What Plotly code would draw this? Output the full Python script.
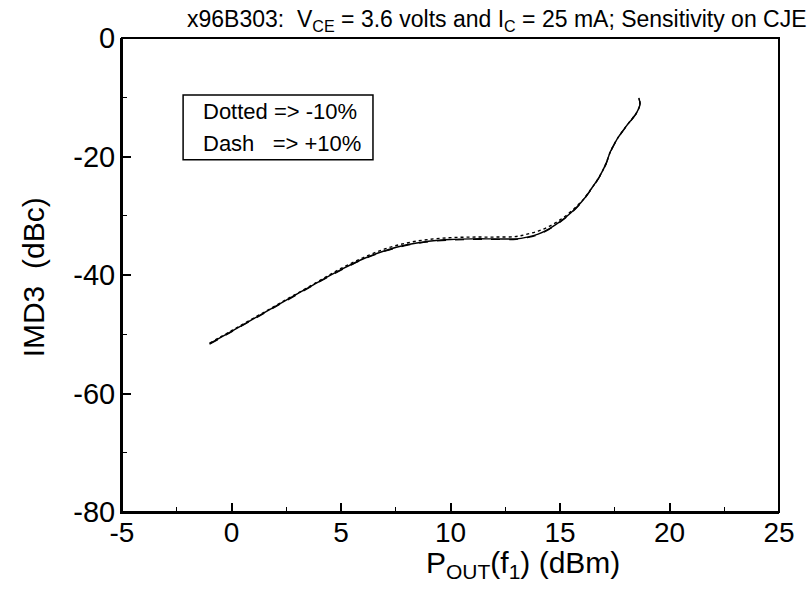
import plotly.graph_objects as go

# Output power of f1 (dBm)
p_out = [-1, 0, 1, 2, 3, 4, 5, 6, 7, 8, 9, 10, 11, 12, 13, 13.5, 14, 14.5,
         15, 15.5, 16, 16.4, 16.8, 17.1, 17.3, 17.6, 18.0, 18.3, 18.5, 18.65, 18.6]

# IMD3 (dBc), nominal CJE
imd3_nominal = [-51.6, -49.5, -47.4, -45.3, -43.2, -41.1, -39.1, -37.3, -35.9, -34.9,
                -34.3, -34.0, -33.9, -33.9, -33.9, -33.6, -33.1, -32.2, -31.0, -29.5,
                -27.6, -25.6, -23.4, -21.2, -19.2, -17.1, -15.0, -13.6, -12.6, -11.2, -10.1]

# IMD3 (dBc), CJE -10% (dotted)
imd3_minus10 = [-51.5, -49.4, -47.3, -45.2, -43.1, -41.0, -38.9, -37.1, -35.6, -34.6,
                -34.0, -33.7, -33.6, -33.6, -33.5, -33.1, -32.6, -31.8, -30.7, -29.3,
                -27.5, -25.6, -23.4, -21.2, -19.2, -17.1, -15.0, -13.6, -12.6, -11.2, -10.1]

# IMD3 (dBc), CJE +10% (dashed)
imd3_plus10 = [-51.7, -49.6, -47.5, -45.4, -43.3, -41.2, -39.2, -37.4, -36.0, -35.0,
               -34.4, -34.1, -34.0, -34.0, -34.0, -33.7, -33.2, -32.3, -31.1, -29.6,
               -27.7, -25.7, -23.5, -21.3, -19.3, -17.2, -15.1, -13.7, -12.7, -11.3, -10.2]

x_ticks = [-5, 0, 5, 10, 15, 20, 25]
x_tick_text = ["-5", "0", "5", "10", "15", "20", "25"]
y_ticks = [0, -20, -40, -60, -80]
y_tick_text = ["0", "-20", "-40", "-60", "-80"]

FONT = "Liberation Sans, Arial, Helvetica, sans-serif"

fig = go.Figure()
fig.add_trace(go.Scatter(x=p_out, y=imd3_minus10, mode="lines",
                         line=dict(color="black", width=1.4, dash="dot", shape="spline"),
                         showlegend=False))
fig.add_trace(go.Scatter(x=p_out, y=imd3_plus10, mode="lines",
                         line=dict(color="black", width=1.2, dash="dash", shape="spline"),
                         showlegend=False))
fig.add_trace(go.Scatter(x=p_out, y=imd3_nominal, mode="lines",
                         line=dict(color="black", width=1.4, shape="spline"),
                         showlegend=False))

axis_common = dict(ticks="inside", ticklen=9, tickwidth=1.5, tickcolor="black",
                   showgrid=False, zeroline=False, showline=True, linecolor="black",
                   linewidth=2, mirror=False)

fig.update_layout(
    width=807, height=593,
    margin=dict(l=122, r=24, t=38, b=81),
    paper_bgcolor="white", plot_bgcolor="white",
    font=dict(family=FONT, color="black"),
    xaxis=dict(range=[-5, 25], tickvals=x_ticks, ticktext=x_tick_text,
               ticklabelstandoff=-6, tickfont=dict(size=28),
               minor=dict(dtick=2.5, ticks="inside", ticklen=5, tickwidth=1.2,
                          tickcolor="black", showgrid=False),
               **axis_common),
    yaxis=dict(range=[-80, 0], tickvals=y_ticks, ticktext=y_tick_text,
               ticklabelstandoff=-1, tickfont=dict(size=29),
               minor=dict(dtick=10, ticks="inside", ticklen=5, tickwidth=1.2,
                          tickcolor="black", showgrid=False),
               **axis_common),
    shapes=[
        # plot frame
        dict(type="rect", xref="paper", yref="paper", x0=0, y0=0, x1=1, y1=1,
             line=dict(color="black", width=2), fillcolor="rgba(0,0,0,0)", layer="above"),
        # note box
        dict(type="rect", xref="paper", yref="paper", x0=0.093, x1=0.382,
             y0=0.743, y1=0.880, line=dict(color="black", width=1.5),
             fillcolor="white", layer="above"),
    ],
    annotations=[
        dict(text="x96B303:  V<sub>CE</sub> = 3.6 volts and I<sub>C</sub> = 25 mA; Sensitivity on CJE",
             xref="paper", yref="paper", x=1.046, y=1.0, xanchor="right", yanchor="bottom",
             yshift=1, showarrow=False, font=dict(size=23)),
        dict(text="P<sub>OUT</sub>(f<sub>1</sub>) (dBm)",
             xref="paper", yref="paper", x=0.61, y=0, xanchor="center", yanchor="top",
             yshift=-32, showarrow=False, font=dict(size=30)),
        dict(text="IMD3  (dBc)", textangle=-90,
             xref="paper", yref="paper", x=0, y=0.495, xanchor="center", yanchor="middle",
             xshift=-89, showarrow=False, font=dict(size=30)),
        dict(text="Dotted => -10%",
             xref="paper", yref="paper", x=0.12, y=0.845, xanchor="left", yanchor="middle",
             showarrow=False, font=dict(size=22)),
        dict(text="Dash&nbsp;&nbsp;&nbsp;=> +10%",
             xref="paper", yref="paper", x=0.12, y=0.777, xanchor="left", yanchor="middle",
             showarrow=False, font=dict(size=22)),
    ],
)

fig.write_html("out.html")
